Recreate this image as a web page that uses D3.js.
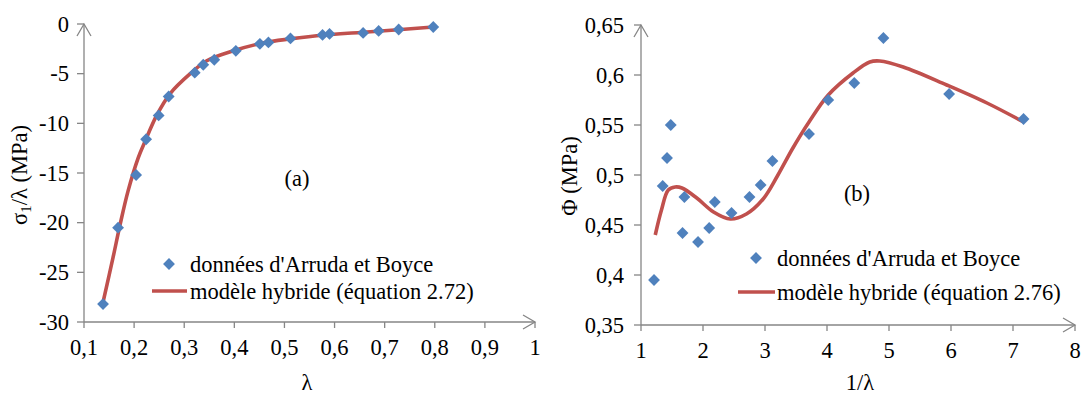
<!DOCTYPE html>
<html><head><meta charset="utf-8">
<script src="https://cdn.jsdelivr.net/npm/d3@7"></script>
<style>
html,body{margin:0;padding:0;background:#fff;}
</style></head>
<body>
<svg id="c" width="1083" height="394" font-family="'Liberation Serif', 'Times New Roman', 'DejaVu Serif', serif"></svg>
<script>
// ---- Data: chart (a) ----
const lambdaData = [0.138,0.168,0.204,0.224,0.249,0.269,0.321,0.338,0.360,0.403,0.451,0.468,0.512,0.576,0.590,0.657,0.688,0.728,0.797];
const sigmaData  = [-28.2,-20.5,-15.2,-11.6,-9.2,-7.3,-4.9,-4.1,-3.6,-2.7,-2.0,-1.85,-1.45,-1.1,-1.0,-0.9,-0.7,-0.55,-0.3];
const lambdaModel = [0.1385,0.158,0.172,0.188,0.208,0.222,0.245,0.272,0.312,0.345,0.398,0.458,0.511,0.58,0.651,0.72,0.797];
const sigmaModel  = [-27.9,-23.5,-20.2,-16.8,-13.5,-11.8,-9.2,-7.0,-5.0,-3.7,-2.7,-1.9,-1.5,-1.1,-0.85,-0.6,-0.3];
const aXTicks = [0.1,0.2,0.3,0.4,0.5,0.6,0.7,0.8,0.9,1];
const aYTicks = [0,-5,-10,-15,-20,-25,-30];

// ---- Data: chart (b) ----
const invLambdaData = [1.21,1.35,1.42,1.48,1.67,1.70,1.92,2.10,2.19,2.46,2.75,2.93,3.12,3.71,4.02,4.44,4.91,5.97,7.17];
const phiData       = [0.395,0.489,0.517,0.550,0.442,0.478,0.433,0.447,0.473,0.462,0.478,0.490,0.514,0.541,0.575,0.592,0.637,0.581,0.556];
const invLambdaModel = [1.23,1.33,1.44,1.55,1.66,1.90,2.17,2.44,2.70,2.97,3.20,3.45,3.71,4.02,4.42,4.69,4.85,5.23,5.93,6.58,7.17];
const phiModel       = [0.44,0.465,0.485,0.488,0.487,0.477,0.463,0.456,0.461,0.476,0.499,0.527,0.553,0.580,0.602,0.613,0.614,0.608,0.590,0.572,0.553];
const bXTicks = [1,2,3,4,5,6,7,8];
const bYTicks = [0.35,0.4,0.45,0.5,0.55,0.6,0.65];

const legendData = "données d'Arruda et Boyce";
const legendModelA = "modèle hybride (équation 2.72)";
const legendModelB = "modèle hybride (équation 2.76)";

const svg = d3.select("#c");
const AXIS = "#868686", BLUE = "#4F81BD", RED = "#C0504D";
const FS = 22.5;
const fmt = v => String(v).replace(".", ",");
const diamond = d3.symbol().type(d3.symbolSquare).size(70);

function panel(o){
  const g = svg.append("g");
  const x = d3.scaleLinear().domain(o.xd).range(o.xr);
  const y = d3.scaleLinear().domain(o.yd).range(o.yr);
  const x0 = o.xr[0], y0 = o.yr[0];
  g.append("line").attr("x1",x0).attr("x2",o.xr[1]).attr("y1",y0).attr("y2",y0).attr("stroke",AXIS).attr("stroke-width",1.3);
  g.append("line").attr("x1",x0).attr("x2",x0).attr("y1",y0).attr("y2",o.yr[1]).attr("stroke",AXIS).attr("stroke-width",1.3);
  const xe=o.xr[1], ye=o.yr[1];
  g.append("path").attr("d",`M${xe-12},${y0-7}L${xe},${y0}L${xe-12},${y0+7}`).attr("fill","none").attr("stroke",AXIS).attr("stroke-width",1.3);
  g.append("path").attr("d",`M${x0-7},${ye+12}L${x0},${ye}L${x0+7},${ye+12}`).attr("fill","none").attr("stroke",AXIS).attr("stroke-width",1.3);
  o.xt.forEach(t=>{
    g.append("line").attr("x1",x(t)).attr("x2",x(t)).attr("y1",y0).attr("y2",y0+6).attr("stroke",AXIS).attr("stroke-width",1.3);
    g.append("text").attr("x",x(t)).attr("y",y0+33).attr("text-anchor","middle").attr("font-size",FS).text(fmt(t));
  });
  o.yt.forEach(t=>{
    g.append("line").attr("x1",x0-7).attr("x2",x0).attr("y1",y(t)).attr("y2",y(t)).attr("stroke",AXIS).attr("stroke-width",1.3);
    g.append("text").attr("x",x0-o.lg).attr("y",y(t)+7.5).attr("text-anchor","end").attr("font-size",FS).text(fmt(t));
  });
  const line = d3.line().x(d=>x(d[0])).y(d=>y(d[1])).curve(d3.curveCatmullRom.alpha(0.5));
  g.append("path").datum(d3.zip(o.mx,o.my)).attr("d",line).attr("fill","none").attr("stroke",RED).attr("stroke-width",3.6);
  g.selectAll(".pt").data(d3.zip(o.dx,o.dy)).join("path")
    .attr("d",diamond).attr("fill",BLUE)
    .attr("transform",d=>`translate(${x(d[0])},${y(d[1])}) rotate(45)`);
  const L=o.leg;
  g.append("path").attr("d",diamond).attr("fill",BLUE).attr("transform",`translate(${L.dx},${L.dy}) rotate(45)`);
  g.append("text").attr("x",L.tx).attr("y",L.dy+7.5).attr("font-size",FS).text(legendData);
  g.append("line").attr("x1",L.lx1).attr("x2",L.lx2).attr("y1",L.ly).attr("y2",L.ly).attr("stroke",RED).attr("stroke-width",3.6);
  g.append("text").attr("x",L.tx).attr("y",L.ly+7.5).attr("font-size",FS).text(o.modelLabel);
  g.append("text").attr("x",o.tag[0]).attr("y",o.tag[1]+7.5).attr("text-anchor","middle").attr("font-size",FS).text(o.tagText);
  return g;
}

panel({xd:[0.1,1], xr:[84,535], yd:[-30,0], yr:[322,24], xt:aXTicks, yt:aYTicks, lg:15,
  dx:lambdaData, dy:sigmaData, mx:lambdaModel, my:sigmaModel,
  leg:{dx:169, dy:264, tx:190, lx1:152, lx2:187, ly:291}, modelLabel:legendModelA,
  tag:[297,178], tagText:"(a)"});
panel({xd:[1,8], xr:[641,1075], yd:[0.35,0.65], yr:[325,25], xt:bXTicks, yt:bYTicks, lg:17,
  dx:invLambdaData, dy:phiData, mx:invLambdaModel, my:phiModel,
  leg:{dx:756, dy:258, tx:777, lx1:738, lx2:775, ly:292}, modelLabel:legendModelB,
  tag:[857,193], tagText:"(b)"});

svg.append("text").attr("x",307).attr("y",390).attr("text-anchor","middle").attr("font-size",FS).text("λ");
svg.append("text").attr("x",860).attr("y",390).attr("text-anchor","middle").attr("font-size",FS).text("1/λ");
const ta = svg.append("text").attr("transform","translate(27,175) rotate(-90)").attr("text-anchor","middle").attr("font-size",FS);
ta.append("tspan").text("σ");
ta.append("tspan").attr("dy",4).attr("font-size",15).text("1");
ta.append("tspan").attr("dy",-4).text("/λ  (MPa)");
svg.append("text").attr("transform","translate(577,176) rotate(-90)").attr("text-anchor","middle").attr("font-size",FS).text("Φ (MPa)");
</script>
</body></html>
